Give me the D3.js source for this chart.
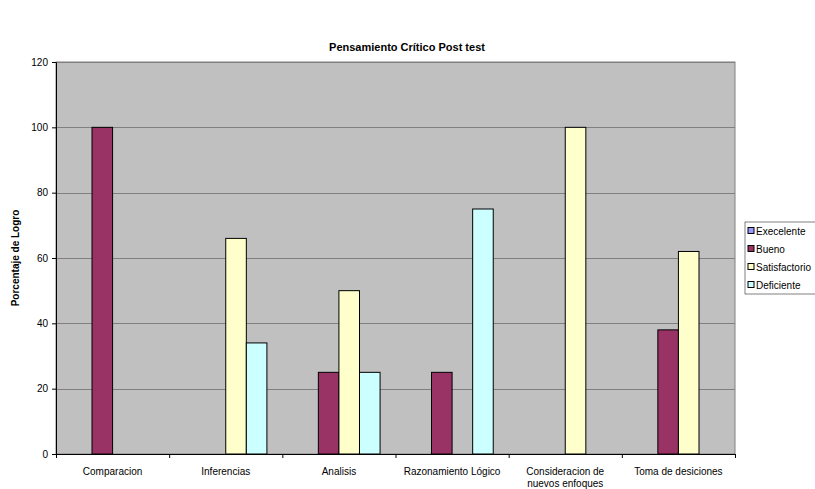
<!DOCTYPE html>
<html>
<head>
<meta charset="utf-8">
<script src="https://cdn.jsdelivr.net/npm/d3@7"></script>
<style>
  body { margin: 0; background: #fff; }
  svg { font-family: "Liberation Sans", Arial, sans-serif; }
</style>
</head>
<body>
<svg id="chart" width="815" height="489"></svg>
<script>
// chart data
const categories = ['Comparacion', 'Inferencias', 'Analisis', 'Razonamiento Lógico', 'Consideracion de nuevos enfoques', 'Toma de desiciones'];
const seriesNames = ['Execelente', 'Bueno', 'Satisfactorio', 'Deficiente'];
const execelente = [0, 0, 0, 0, 0, 0];
const bueno = [100, 0, 25, 25, 0, 38];
const satisfactorio = [0, 66, 50, 0, 100, 62];
const deficiente = [0, 34, 25, 75, 0, 0];
const yTicks = [0, 20, 40, 60, 80, 100, 120];
const colors = ['#9999FF', '#993366', '#FFFFCC', '#CCFFFF'];

const seriesValues = [execelente, bueno, satisfactorio, deficiente];

const margin = { left: 56, top: 62, right: 80, bottom: 35 };
const plotW = 735 - margin.left;
const plotH = 454 - margin.top;

const svg = d3.select('#chart');

const x0 = d3.scaleBand()
    .domain(categories)
    .range([0, plotW])
    .paddingInner(0)
    .paddingOuter(0);

// Excel style gap width 150%
const x1 = d3.scaleBand()
    .domain(seriesNames)
    .range([x0.bandwidth() * 0.75 / 5.5, x0.bandwidth() - x0.bandwidth() * 0.75 / 5.5]);

const y = d3.scaleLinear()
    .domain([0, 120])
    .range([plotH, 0]);

const g = svg.append('g')
    .attr('transform', `translate(${margin.left},${margin.top})`);

// plot background
g.append('rect')
    .attr('width', plotW)
    .attr('height', plotH)
    .attr('fill', '#C0C0C0')
    .attr('stroke', '#808080')
    .attr('stroke-width', 1);

// gridlines
g.append('g')
    .selectAll('line')
    .data(yTicks.filter(d => d > 0))
    .join('line')
    .attr('x1', 0)
    .attr('x2', plotW)
    .attr('y1', d => Math.round(y(d)) + 0.5)
    .attr('y2', d => Math.round(y(d)) + 0.5)
    .attr('stroke', '#808080')
    .attr('stroke-width', 1);

// bars
const groups = g.append('g')
    .selectAll('g')
    .data(categories)
    .join('g')
    .attr('transform', d => `translate(${x0(d)},0)`);

groups.selectAll('rect')
    .data((c, i) => seriesNames.map((s, k) => ({ s: s, v: seriesValues[k][i], k: k })))
    .join('rect')
    .filter(d => d.v > 0)
    .attr('x', d => x1(d.s))
    .attr('y', d => y(d.v))
    .attr('width', x1.bandwidth())
    .attr('height', d => plotH - y(d.v))
    .attr('fill', d => colors[d.k])
    .attr('stroke', '#000')
    .attr('stroke-width', 1);

// y axis
const yAxis = g.append('g')
    .call(d3.axisLeft(y).tickValues(yTicks).tickSize(4).tickPadding(4));
yAxis.select('.domain').attr('stroke', '#000');
yAxis.selectAll('text').attr('font-size', 10).attr('fill', '#000')
    .attr('font-family', '"Liberation Sans", Arial, sans-serif');

// x axis
const xAxis = g.append('g')
    .attr('transform', `translate(0,${plotH})`)
    .call(d3.axisBottom(d3.scaleLinear().domain([0, categories.length]).range([0, plotW]))
        .tickValues(d3.range(categories.length + 1))
        .tickSize(4)
        .tickFormat(''));
xAxis.select('.domain').attr('stroke', '#000');

// x category labels
g.append('g')
    .selectAll('text')
    .data(categories)
    .join('text')
    .attr('x', d => x0(d) + x0.bandwidth() / 2)
    .attr('y', plotH + 21)
    .attr('text-anchor', 'middle')
    .attr('font-size', 10)
    .attr('fill', '#000')
    .each(function (d) {
        const el = d3.select(this);
        if (d === 'Consideracion de nuevos enfoques') {
            el.append('tspan').attr('x', x0(d) + x0.bandwidth() / 2).text('Consideracion de');
            el.append('tspan').attr('x', x0(d) + x0.bandwidth() / 2).attr('dy', 12).text('nuevos enfoques');
        } else {
            el.text(d);
        }
    });

// title
svg.append('text')
    .attr('x', 407)
    .attr('y', 51)
    .attr('text-anchor', 'middle')
    .attr('font-size', 11)
    .attr('font-weight', 'bold')
    .text('Pensamiento Crítico Post test');

// y axis title
svg.append('text')
    .attr('transform', 'translate(19,258) rotate(-90)')
    .attr('text-anchor', 'middle')
    .attr('font-size', 10)
    .attr('font-weight', 'bold')
    .text('Porcentaje de Logro');

// legend
const legend = svg.append('g')
    .attr('transform', 'translate(745,222)');

legend.append('rect')
    .attr('width', 80)
    .attr('height', 72)
    .attr('fill', '#fff')
    .attr('stroke', '#000')
    .attr('stroke-width', 0.5);

const li = legend.selectAll('g.item')
    .data(seriesNames)
    .join('g')
    .attr('class', 'item')
    .attr('transform', (d, i) => `translate(3,${9 + i * 18})`);

li.append('rect')
    .attr('x', 0)
    .attr('y', -3.5)
    .attr('width', 6)
    .attr('height', 6)
    .attr('fill', (d, i) => colors[i])
    .attr('stroke', '#000')
    .attr('stroke-width', 1);

li.append('text')
    .attr('x', 8)
    .attr('y', 3.5)
    .attr('font-size', 10)
    .text(d => d);
</script>
</body>
</html>
